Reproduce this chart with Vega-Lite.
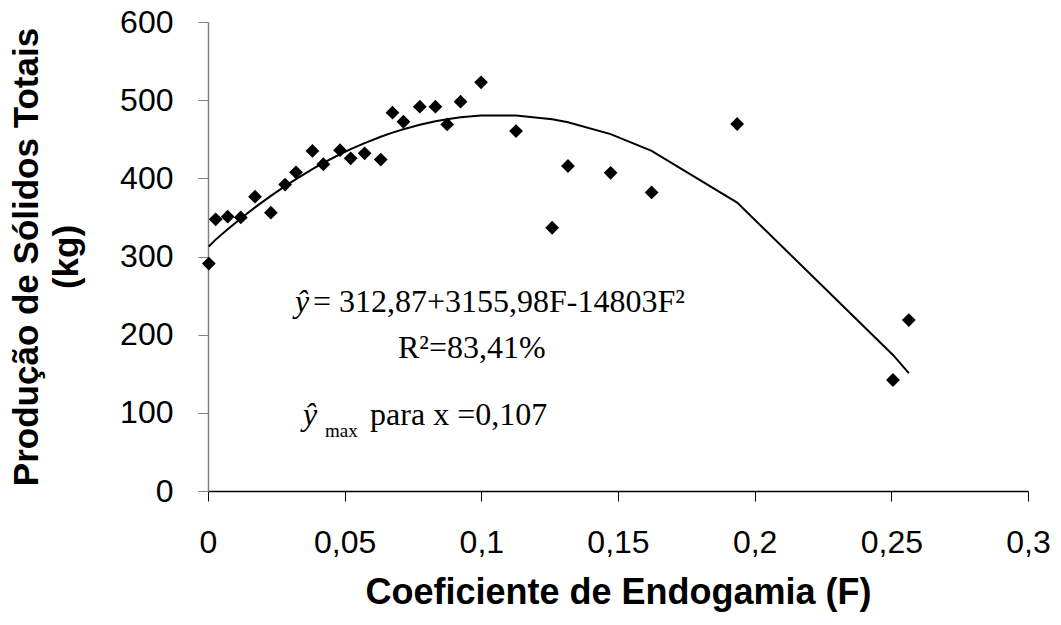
{
  "$schema": "https://vega.github.io/schema/vega-lite/v6.json",
  "width": 820,
  "height": 469,
  "autosize": {"type": "none"},
  "padding": {"left": 208, "top": 22, "right": 33, "bottom": 134},
  "background": "white",
  "config": {"view": {"stroke": null}, "font": "Liberation Sans"},
  "layer": [
    {
      "data": {"name": "pts", "values": [
        {"F": 0.0003, "PST": 291, "fit": 312.9},
        {"F": 0.0028, "PST": 347.6, "fit": 321.6},
        {"F": 0.0072, "PST": 351, "fit": 334.8},
        {"F": 0.012, "PST": 350, "fit": 348.6},
        {"F": 0.0172, "PST": 376.5, "fit": 362.8},
        {"F": 0.023, "PST": 356, "fit": 377.6},
        {"F": 0.0282, "PST": 392, "fit": 390.1},
        {"F": 0.0322, "PST": 407.7, "fit": 399.1},
        {"F": 0.0382, "PST": 435, "fit": 411.8},
        {"F": 0.0422, "PST": 418, "fit": 419.7},
        {"F": 0.0483, "PST": 436, "fit": 430.8},
        {"F": 0.0522, "PST": 425.6, "fit": 437.3},
        {"F": 0.0573, "PST": 432, "fit": 445.1},
        {"F": 0.0632, "PST": 424, "fit": 453.2},
        {"F": 0.0675, "PST": 484, "fit": 458.5},
        {"F": 0.0715, "PST": 472.4, "fit": 462.8},
        {"F": 0.0775, "PST": 491.6, "fit": 468.6},
        {"F": 0.0832, "PST": 491.6, "fit": 473.0},
        {"F": 0.0875, "PST": 469, "fit": 475.7},
        {"F": 0.0924, "PST": 498, "fit": 478.1},
        {"F": 0.0999, "PST": 522.8, "fit": 480.4},
        {"F": 0.1127, "PST": 460.5, "fit": 480.5},
        {"F": 0.1259, "PST": 336.8, "fit": 475.6},
        {"F": 0.1317, "PST": 415.8, "fit": 471.8},
        {"F": 0.1473, "PST": 407, "fit": 456.6},
        {"F": 0.1623, "PST": 382, "fit": 435.2},
        {"F": 0.1936, "PST": 469.5, "fit": 369.0},
        {"F": 0.2506, "PST": 142, "fit": 174.1},
        {"F": 0.2564, "PST": 218.7, "fit": 150.9}
      ]},
      "layer": [
        {
          "mark": {"type": "line", "color": "black", "strokeWidth": 2},
          "encoding": {
            "x": {
              "field": "F", "type": "quantitative",
              "scale": {"domain": [0, 0.3], "nice": false, "zero": false},
              "axis": {
                "values": [0, 0.05, 0.1, 0.15, 0.2, 0.25, 0.3],
                "labelExpr": "replace(toString(datum.value), '.', ',')",
                "grid": false,
                "domainColor": "black", "domainWidth": 1.5,
                "tickColor": "black", "tickSize": 10, "tickWidth": 1,
                "labelFont": "Liberation Sans", "labelFontSize": 32, "labelColor": "black",
                "labelPadding": 26, "labelFlush": false, "labelOverlap": false,
                "title": "Coeficiente de Endogamia (F)",
                "titleFont": "Liberation Sans", "titleFontSize": 36, "titleFontWeight": "bold",
                "titleColor": "black", "titleX": 410, "titleY": 112,
                "titleAlign": "center", "titleBaseline": "alphabetic"
              }
            },
            "y": {
              "field": "fit", "type": "quantitative",
              "scale": {"domain": [0, 600], "nice": false},
              "axis": {
                "values": [0, 100, 200, 300, 400, 500, 600],
                "grid": false,
                "domainColor": "#808080", "domainWidth": 1.5,
                "tickColor": "#808080", "tickSize": 10, "tickWidth": 1,
                "labelFont": "Liberation Sans", "labelFontSize": 32, "labelColor": "black",
                "labelPadding": 25, "labelFlush": false, "labelOverlap": false,
                "title": ["Produção de Sólidos Totais", "(kg)"],
                "titleFont": "Liberation Sans", "titleFontSize": 35, "titleFontWeight": "bold",
                "titleColor": "black", "titleAngle": -90, "titleX": -171, "titleY": 234.5,
                "titleAlign": "center", "titleBaseline": "alphabetic", "titleLineHeight": 40
              }
            }
          }
        },
        {
          "mark": {"type": "point", "shape": "diamond", "filled": true, "color": "black", "size": 190, "opacity": 1},
          "encoding": {
            "x": {"field": "F", "type": "quantitative"},
            "y": {"field": "PST", "type": "quantitative"}
          }
        }
      ]
    },
    {
      "data": {"values": [{"t": "ŷ"}]},
      "mark": {"type": "text", "font": "Liberation Serif", "fontStyle": "italic", "fontSize": 32, "align": "left", "baseline": "alphabetic", "color": "black"},
      "encoding": {"text": {"field": "t"}, "x": {"datum": 0.0318}, "y": {"datum": 229}}
    },
    {
      "data": {"values": [{"t": "= 312,87+3155,98F-14803F²"}]},
      "mark": {"type": "text", "font": "Liberation Serif", "fontSize": 32, "align": "left", "baseline": "alphabetic", "color": "black"},
      "encoding": {"text": {"field": "t"}, "x": {"datum": 0.0384}, "y": {"datum": 229}}
    },
    {
      "data": {"values": [{"t": "R²=83,41%"}]},
      "mark": {"type": "text", "font": "Liberation Serif", "fontSize": 32, "align": "left", "baseline": "alphabetic", "color": "black"},
      "encoding": {"text": {"field": "t"}, "x": {"datum": 0.0695}, "y": {"datum": 170}}
    },
    {
      "data": {"values": [{"t": "ŷ"}]},
      "mark": {"type": "text", "font": "Liberation Serif", "fontStyle": "italic", "fontSize": 32, "align": "left", "baseline": "alphabetic", "color": "black"},
      "encoding": {"text": {"field": "t"}, "x": {"datum": 0.0348}, "y": {"datum": 84.4}}
    },
    {
      "data": {"values": [{"t": "max"}]},
      "mark": {"type": "text", "font": "Liberation Serif", "fontSize": 19, "align": "left", "baseline": "alphabetic", "color": "black"},
      "encoding": {"text": {"field": "t"}, "x": {"datum": 0.0428}, "y": {"datum": 69}}
    },
    {
      "data": {"values": [{"t": "para x =0,107"}]},
      "mark": {"type": "text", "font": "Liberation Serif", "fontSize": 32, "align": "left", "baseline": "alphabetic", "color": "black"},
      "encoding": {"text": {"field": "t"}, "x": {"datum": 0.0593}, "y": {"datum": 84.4}}
    }
  ]
}
